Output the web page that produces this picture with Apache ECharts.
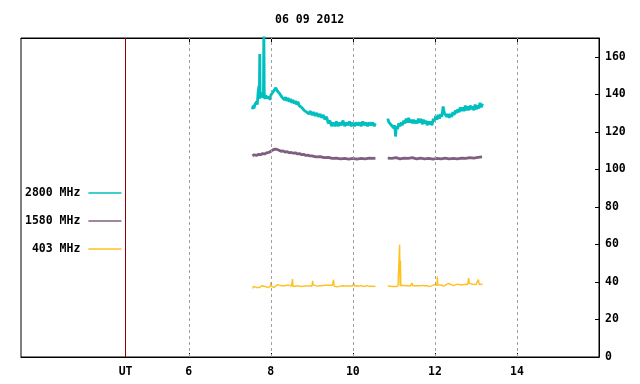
<!DOCTYPE html>
<html><head><meta charset="utf-8">
<script src="https://cdn.jsdelivr.net/npm/echarts@6/dist/echarts.min.js"></script>
<style>html,body{margin:0;padding:0;background:#fff}#c{width:640px;height:384px}</style>
</head><body><div id="c"></div>
<script>
const chartTitle = '06 09 2012';
const seriesNames = ['2800 MHz', '1580 MHz', '403 MHz'];
const xTickValues = [6, 8, 10, 12, 14];
const utPosition = 4.46;
const yTicks = [0, 20, 40, 60, 80, 100, 120, 140, 160];

const t2800 = [7.55,7.57,7.59,7.61,7.63,7.65,7.67,7.69,7.71,7.72,
  7.73,7.74,7.76,7.78,7.80,7.82,7.83,7.84,7.86,7.88,
  7.90,7.92,7.94,7.96,7.98,8.00,8.03,8.06,8.09,8.12,
  8.15,8.18,8.21,8.24,8.27,8.30,8.33,8.36,8.39,8.42,
  8.45,8.48,8.51,8.54,8.57,8.60,8.63,8.66,8.69,8.72,
  8.75,8.78,8.81,8.84,8.87,8.90,8.93,8.96,9.00,9.04,
  9.08,9.12,9.16,9.20,9.24,9.28,9.32,9.36,9.40,9.44,
  9.48,9.52,9.56,9.60,9.64,9.68,9.72,9.76,9.80,9.84,
  9.88,9.92,9.96,10.00,10.04,10.08,10.12,10.16,10.20,10.24,
  10.28,10.32,10.36,10.40,10.44,10.48,10.52,10.55,10.70,
  10.85,10.88,10.91,10.94,10.97,11.00,11.02,11.04,11.06,11.09,
  11.12,11.15,11.18,11.21,11.24,11.27,11.30,11.33,11.36,11.39,
  11.42,11.45,11.48,11.51,11.54,11.57,11.60,11.63,11.66,11.69,
  11.72,11.75,11.78,11.81,11.84,11.87,11.90,11.93,11.96,11.99,
  12.02,12.05,12.08,12.11,12.14,12.17,12.20,12.23,12.26,12.29,
  12.32,12.35,12.38,12.41,12.44,12.47,12.50,12.53,12.56,12.59,
  12.62,12.65,12.68,12.71,12.74,12.77,12.80,12.83,12.86,12.89,
  12.92,12.95,12.98,13.01,13.04,13.07,13.10,13.13,13.16];
const v2800 = [132,134,132.5,134.5,133.5,136,134.5,141,144.5,137.5,
  161.5,138,141,138.5,140,138,176,139.5,137.5,139.5,
  138,139,137,138.5,137,139.5,139,141.5,141,143.5,
  142,143,140.5,141,138.5,139,137,138.5,136.5,138,
  136,137.5,135.5,137,135,136.5,134.5,136,134,135,
  133,133.5,131.5,132.5,130.5,131.5,129.5,131,129,130.5,
  128.5,130,128,129.5,127.5,129,126.5,128,124.5,126,
  123,125,123,125.5,123,125,123.5,126,123,125,
  123.5,125.5,123,125,123,125,123.5,125,123,125.5,
  123.5,125,123,125,123.5,125,123,124.5,null,
  127,125,126,123.5,124.5,122,123.5,117.5,123,121.5,
  124.5,123,125,123.5,126,124.5,127,125,127.5,125,
  126.5,124.5,126.5,124.5,126,124.5,127,125,127,124,
  126.5,124.5,126,123.5,125.5,124,125.5,123.5,127,125.5,
  128.5,126.5,129,127,129.5,128,133.5,130,131,128,
  129.5,127.5,129.5,128,130.5,129,131.5,130,132,130.5,
  133,131,133,131,134,131.5,133.5,131.5,134,132,
  133.5,131.5,134.5,132,134,132.5,135.5,133,135];

const t1580 = [7.55,7.6,7.65,7.7,7.75,7.8,7.85,7.9,7.95,8.0,
  8.05,8.1,8.15,8.2,8.25,8.3,8.35,8.4,8.45,8.5,
  8.55,8.6,8.65,8.7,8.75,8.8,8.85,8.9,8.95,9.0,
  9.1,9.2,9.3,9.4,9.5,9.6,9.7,9.8,9.9,10.0,
  10.1,10.2,10.3,10.4,10.5,10.55,10.7,
  10.85,10.95,11.05,11.15,11.25,11.35,11.45,11.55,11.65,11.75,
  11.85,11.95,12.05,12.15,12.25,12.35,12.45,12.55,12.65,12.75,
  12.85,12.95,13.05,13.15];
const v1580 = [107.2,107.8,107.4,108,107.8,108.4,108.2,108.8,109,109.6,
  110.4,110.8,110.6,110.2,109.6,109.8,109.2,109.4,108.8,109,
  108.6,108.8,108.2,108.4,107.8,108,107.4,107.6,107.2,107.2,
  106.6,106.8,106.2,106.4,105.8,106,105.6,105.8,105.5,105.8,
  105.5,105.8,105.6,106,105.8,106,null,
  106,105.8,106.2,105.6,106,105.8,106.2,105.6,106,105.6,
  105.8,105.4,105.8,105.6,106,105.6,105.8,105.6,106,105.8,
  106.2,106,106.4,106.6];

const t403 = [7.55,7.58,7.62,7.65,7.68,7.72,7.75,7.78,7.82,7.86,
  7.9,7.93,7.96,7.99,8.0,8.02,8.05,8.08,8.1,8.12,
  8.16,8.2,8.25,8.28,8.32,8.36,8.4,8.45,8.5,8.52,
  8.53,8.54,8.58,8.62,8.66,8.7,8.75,8.8,8.85,8.9,
  8.95,9.0,9.02,9.03,9.06,9.1,9.15,9.2,9.25,9.3,
  9.35,9.4,9.45,9.5,9.52,9.53,9.54,9.58,9.62,9.66,
  9.7,9.75,9.8,9.85,9.9,9.95,10.0,10.02,10.04,10.1,
  10.15,10.2,10.25,10.3,10.35,10.4,10.45,10.5,10.55,10.7,
  10.85,10.9,10.93,10.96,11.0,11.05,11.1,11.13,11.14,11.15,
  11.16,11.17,11.2,11.25,11.3,11.35,11.4,11.44,11.46,11.5,
  11.55,11.6,11.65,11.7,11.75,11.8,11.85,11.9,11.95,12.0,
  12.05,12.06,12.07,12.1,12.15,12.2,12.25,12.3,12.35,12.4,
  12.45,12.5,12.55,12.6,12.65,12.7,12.75,12.8,12.82,12.84,
  12.88,12.92,12.96,13.0,13.04,13.06,13.08,13.12,13.16];
const v403 = [36.5,37.6,37.6,37,36.4,37,37.2,38,37.6,37.6,
  37,37,37.6,37.6,40,37.6,37.8,37,36.6,37.8,
  38.6,38.4,38,37.6,38,38.4,38.2,38.2,37.8,37.6,
  41.5,37.6,38,37.8,37.6,37.8,37.6,37.8,37.8,37.8,
  38,37.6,40.6,38.4,38,38,37.8,38,38,38.2,
  38.2,38.2,38.2,38.2,38.2,41.2,37.8,37.6,37.4,37.8,
  37.8,38,37.8,37.8,37.8,37.8,38,39.4,37.8,38,
  37.8,38,37.6,37.8,38,37.6,37.8,37.6,37.8,null,
  37.8,37.8,38.4,37.6,37.4,37.6,37.8,38,60,38,
  51.3,38,38,38.2,38,38,37.8,39.4,38,38,
  38,38,38,38.2,38,38,37.6,37.8,38.2,38.6,
  38.2,42.9,38.4,38.6,38.4,37.8,38.2,39,39.2,38.6,
  38,38.4,38.8,38.6,38.4,38.6,38.8,38.6,42.1,39.2,
  38.6,38.8,38.6,38.6,38.8,41.2,38.6,38.8,38.8];

const colors = ['#00bfbf', '#7f5f7f', '#ffc020'];
const FONT = "'DejaVu Sans Mono', monospace";

function zip(t, v) { return t.map((x, i) => [x, v[i] === null ? '-' : v[i]]); }

const chart = echarts.init(document.getElementById('c'), null, {renderer: 'canvas'});
const txt = {fontFamily: FONT, fontSize: 11.5, fontWeight: 'bold', color: '#000'};

chart.setOption({
  animation: false,
  backgroundColor: '#fff',
  title: {text: chartTitle, left: 270, top: 9, textStyle: txt},
  grid: {left: 21, right: 41, top: 38, bottom: 27, show: true, borderColor: '#000', borderWidth: 1},
  legend: {
    orient: 'vertical', align: 'right', left: 20, top: 182,
    itemWidth: 33, itemHeight: 14, itemGap: 16,
    formatter: n => n.padStart(8, ' '),
    textStyle: Object.assign({}, txt, {padding: [0, 3, 0, 0]}),
    itemStyle: {color: 'transparent', borderWidth: 0, borderColor: 'transparent'},
    lineStyle: {width: 1.3},
    data: seriesNames
  },
  xAxis: [{
    type: 'value', min: 1.91, max: 16, position: 'bottom',
    axisLine: {show: true, lineStyle: {color: '#000'}},
    axisTick: {show: true, inside: true, length: 4, customValues: xTickValues, lineStyle: {color: '#000'}},
    axisLabel: {customValues: [utPosition].concat(xTickValues), margin: 9,
      fontFamily: FONT, fontSize: 11.5, fontWeight: 'bold', color: '#000',
      formatter: v => (v < 5 ? 'UT' : String(v))},
    splitLine: {show: false}
  }, {
    type: 'value', min: 1.91, max: 16, position: 'top',
    axisLine: {show: true, lineStyle: {color: '#000'}},
    axisTick: {show: true, inside: true, length: 4, customValues: xTickValues, lineStyle: {color: '#000'}},
    axisLabel: {show: false},
    splitLine: {show: false}
  }],
  yAxis: {
    type: 'value', min: 0, max: 170, interval: 20, position: 'right',
    axisLine: {show: true, lineStyle: {color: '#000'}},
    axisTick: {show: true, inside: true, length: 4, customValues: yTicks, lineStyle: {color: '#000'}},
    axisLabel: {customValues: yTicks, margin: 6, fontFamily: FONT, fontSize: 11.5, fontWeight: 'bold', color: '#000'},
    splitLine: {show: false}
  },
  series: [{
    name: seriesNames[0], type: 'line', symbol: 'none', data: zip(t2800, v2800),
    lineStyle: {color: colors[0], width: 2.8}, itemStyle: {color: colors[0]}, z: 3,
    markLine: {
      silent: true, symbol: 'none', label: {show: false}, animation: false,
      data: xTickValues.map(x => ({xAxis: x, lineStyle: {color: '#a0a0a0', type: [3, 3], width: 1}}))
        .concat([{xAxis: utPosition, lineStyle: {color: '#8b0000', type: 'solid', width: 1}}])
    }
  }, {
    name: seriesNames[1], type: 'line', symbol: 'none', data: zip(t1580, v1580),
    lineStyle: {color: colors[1], width: 2.8}, itemStyle: {color: colors[1]}, z: 3
  }, {
    name: seriesNames[2], type: 'line', symbol: 'none', data: zip(t403, v403),
    lineStyle: {color: colors[2], width: 1.4}, itemStyle: {color: colors[2]}, z: 3
  }]
});
</script>
</body></html>
